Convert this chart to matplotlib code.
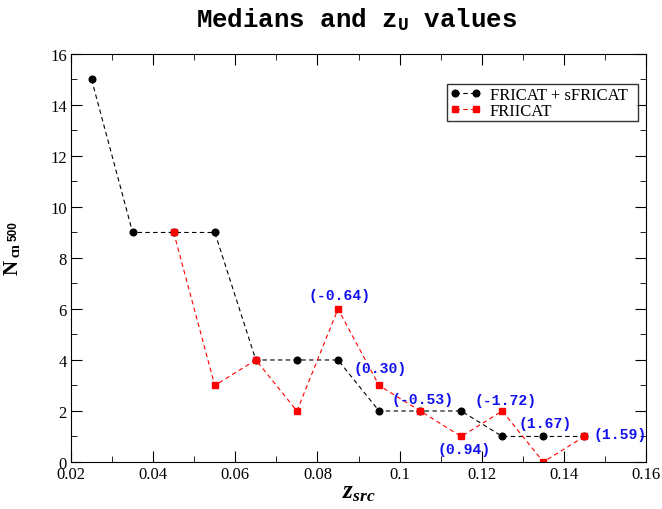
import matplotlib
matplotlib.use('Agg')
import matplotlib.pyplot as plt
from matplotlib.ticker import MultipleLocator

plt.rcParams['mathtext.fontset'] = 'custom'
plt.rcParams['mathtext.rm'] = 'Liberation Serif'
plt.rcParams['mathtext.it'] = 'Liberation Serif:italic'
plt.rcParams['mathtext.bf'] = 'Liberation Serif:bold'
plt.rcParams['mathtext.bfit'] = 'Liberation Serif:bold:italic'
plt.rcParams['mathtext.tt'] = 'Liberation Mono:bold'

# binned source redshift and median counts
z_fr1 = [0.025, 0.035, 0.045, 0.055, 0.065, 0.075, 0.085, 0.095, 0.105, 0.115, 0.125, 0.135, 0.145]
n_fr1 = [15, 9, 9, 9, 4, 4, 4, 2, 2, 2, 1, 1, 1]

z_fr2 = [0.045, 0.055, 0.065, 0.075, 0.085, 0.095, 0.105, 0.115, 0.125, 0.135, 0.145]
n_fr2 = [9, 3, 4, 2, 6, 3, 2, 1, 2, 0, 1]

# z_U values and where they are written
zu_text = ['(-0.64)', '(0.30)', '(-0.53)', '(0.94)', '(-1.72)', '(1.67)', '(1.59)']
zu_x = [0.0855, 0.0952, 0.1055, 0.1157, 0.1257, 0.1354, 0.1471]
zu_y = [6.55, 3.69, 2.47, 0.51, 2.44, 1.53, 1.1]
zu_ha = ['center', 'center', 'center', 'center', 'center', 'center', 'left']

fig = plt.figure(figsize=(6.62, 5.10), dpi=100)
ax = fig.add_axes([0.1073, 0.0922, 0.8686, 0.8])

ax.plot(z_fr1, n_fr1, 'k--', lw=0.8, marker='o', ms=4.8, dashes=(4, 3),
        label='FRICAT + sFRICAT  ')
ax.plot(z_fr2, n_fr2, color='red', ls='--', lw=0.8, marker='s', ms=4.6,
        dashes=(4, 3), label='FRIICAT')

for t, x, y, ha in zip(zu_text, zu_x, zu_y, zu_ha):
    ax.text(x, y, t, color='#1010ee', fontsize=10.6, fontweight='bold',
            family='Liberation Mono', ha=ha, va='center')

ax.set_xlim(0.02, 0.16)
ax.set_ylim(0, 16)
ax.set_xticks([0.02, 0.04, 0.06, 0.08, 0.1, 0.12, 0.14, 0.16])
ax.set_xticklabels(['0.02', '0.04', '0.06', '0.08', '0.1', '0.12', '0.14', '0.16'])
ax.xaxis.set_minor_locator(MultipleLocator(0.01))
ax.yaxis.set_major_locator(MultipleLocator(2))
ax.yaxis.set_minor_locator(MultipleLocator(1))
ax.tick_params(which='both', direction='in', top=True, right=True,
               labelsize=12, pad=3)
ax.tick_params(which='major', length=8)
ax.tick_params(which='minor', length=4)
for lab in ax.get_xticklabels() + ax.get_yticklabels():
    lab.set_family('Liberation Serif')

ax.set_xlabel(r'$\mathbfit{z_{src}}$', fontsize=18, labelpad=-2)

# y label built from three rotated pieces: N-bar, "cn" and "500"
fig.text(12 / 662, 1 - 268 / 510, r'$\mathbf{\bar{N}}$', rotation=90,
         fontsize=15, ha='center', va='center')
fig.text(16 / 662, 1 - 250 / 510, 'cn', rotation=90, fontsize=10,
         fontweight='bold', family='Liberation Serif', ha='center', va='center')
fig.text(14 / 662, 1 - 231 / 510, '500', rotation=90, fontsize=8.5,
         fontweight='bold', family='Liberation Sans', ha='center', va='center')

fig.text(0.538, 0.962, r'Medians and z$_\mathtt{U}$ values', ha='center',
         va='center', fontsize=18.5, fontweight='bold', family='Liberation Mono')

leg = ax.legend(loc='upper right', bbox_to_anchor=(0.986, 0.926), frameon=True,
                fancybox=False, edgecolor='black', handlelength=1.9,
                numpoints=2, borderaxespad=0,
                prop={'family': 'Liberation Serif', 'size': 12},
                borderpad=0.15, labelspacing=0.0, handletextpad=0.5)
leg.get_frame().set_linewidth(1.0)

fig.savefig('out.png', dpi=100)
